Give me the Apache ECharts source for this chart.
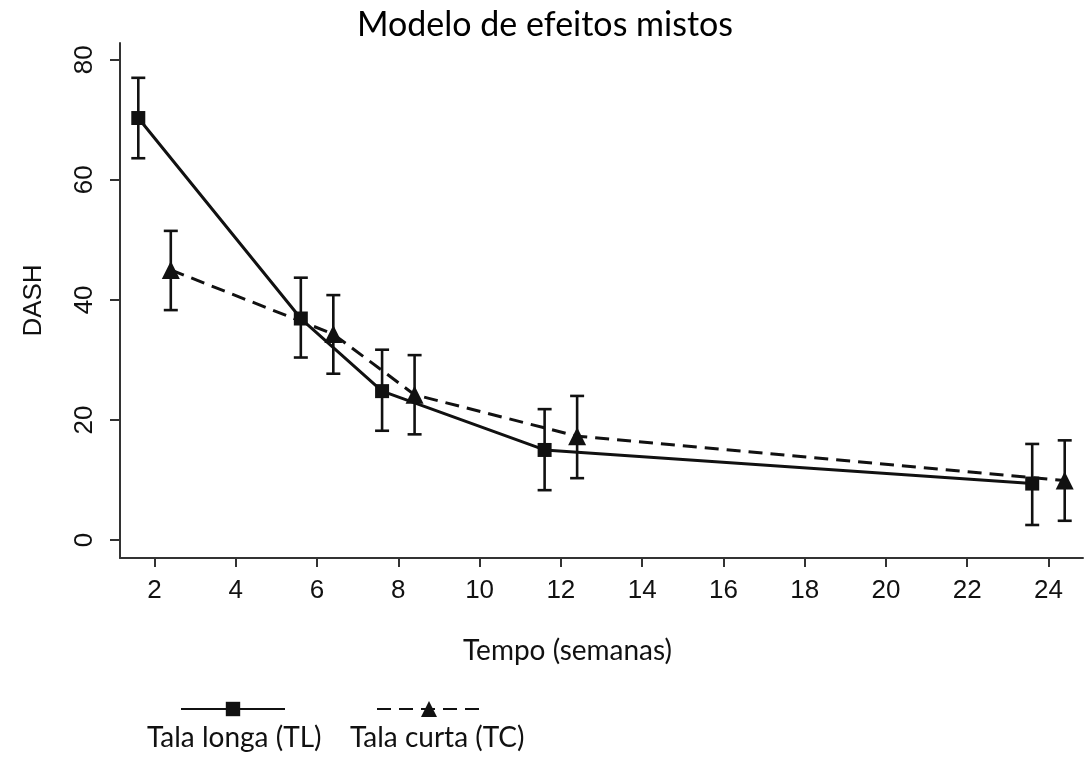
<!DOCTYPE html>
<html>
<head>
<meta charset="utf-8">
<script src="https://cdn.jsdelivr.net/npm/echarts@6/dist/echarts.min.js"></script>
<style>html,body{margin:0;padding:0;background:#fff}#c{width:1090px;height:761px}</style>
</head>
<body>
<div id="c"></div>
<script>
// Data
const tlWeeks = [1.6, 5.6, 7.6, 11.6, 23.6];
const tlMean  = [70.3, 36.9, 24.8, 15.0, 9.4];
const tlLow   = [63.6, 30.4, 18.2, 8.3, 2.5];
const tlHigh  = [77.0, 43.7, 31.7, 21.8, 16.0];
const tcWeeks = [2.4, 6.4, 8.4, 12.4, 24.4];
const tcMean  = [45.0, 34.3, 24.2, 17.3, 9.9];
const tcLow   = [38.3, 27.7, 17.6, 10.3, 3.2];
const tcHigh  = [51.5, 40.8, 30.8, 24.0, 16.6];
const xTicks = [2, 4, 6, 8, 10, 12, 14, 16, 18, 20, 22, 24];
const yTicks = [0, 20, 40, 60, 80];
const seriesNames = ['Tala longa (TL)', 'Tala curta (TC)'];

const chart = echarts.init(document.getElementById('c'));
const ink = '#111';

function errorSeries(weeks, low, high) {
  return {
    type: 'custom',
    silent: true,
    z: 1,
    data: weeks.map((w, i) => [w, low[i], high[i]]),
    renderItem: function (params, api) {
      const p1 = api.coord([api.value(0), api.value(1)]);
      const p2 = api.coord([api.value(0), api.value(2)]);
      const hw = 7;
      const st = { stroke: ink, lineWidth: 2.6 };
      return {
        type: 'group',
        children: [
          { type: 'line', shape: { x1: p1[0], y1: p1[1], x2: p2[0], y2: p2[1] }, style: st },
          { type: 'line', shape: { x1: p1[0] - hw, y1: p1[1], x2: p1[0] + hw, y2: p1[1] }, style: st },
          { type: 'line', shape: { x1: p2[0] - hw, y1: p2[1], x2: p2[0] + hw, y2: p2[1] }, style: st }
        ]
      };
    }
  };
}

const option = {
  backgroundColor: '#fff',
  animation: false,
  title: {
    text: 'Modelo de efeitos mistos',
    left: 'center',
    top: 3,
    textStyle: { fontFamily: 'Lato', fontWeight: 'normal', fontSize: 34, color: '#000' }
  },
  grid: { left: 120, right: 7, top: 43, bottom: 203 },
  legend: [
    {
      data: [seriesNames[0]], left: 180, top: 700, itemWidth: 104, itemHeight: 18,
      formatter: () => '', itemGap: 0, padding: 0, selectedMode: false
    },
    {
      data: [seriesNames[1]], left: 376, top: 699, itemWidth: 104, itemHeight: 20,
      formatter: () => '', itemGap: 0, padding: 0, selectedMode: false
    }
  ],
  graphic: [
    { type: 'text', left: 147, top: 724, style: { text: seriesNames[0], font: '28px Lato', fill: '#111' } },
    { type: 'text', left: 350, top: 724, style: { text: seriesNames[1], font: '28px Lato', fill: '#111' } }
  ],
  xAxis: {
    type: 'value',
    min: 1.15, max: 24.85,
    name: 'Tempo (semanas)',
    nameLocation: 'middle',
    nameGap: 79,
    nameTextStyle: { fontFamily: 'Lato', fontSize: 28, color: '#111', padding: [0, 68, 0, 0] },
    axisLine: { show: true, onZero: false, lineStyle: { color: '#333', width: 2 } },
    axisTick: { show: true, customValues: xTicks, length: 9, lineStyle: { color: '#333', width: 2 } },
    axisLabel: { customValues: xTicks, margin: 20, fontFamily: 'Liberation Sans', fontSize: 26, color: '#111' },
    splitLine: { show: false }
  },
  yAxis: {
    type: 'value',
    min: -3, max: 82.8,
    name: 'DASH',
    nameLocation: 'middle',
    nameGap: 73,
    nameRotate: 90,
    nameTextStyle: { fontFamily: 'Liberation Sans', fontSize: 26, color: '#111' },
    axisLine: { show: true, onZero: false, lineStyle: { color: '#333', width: 2 } },
    axisTick: { show: true, customValues: yTicks, length: 10, lineStyle: { color: '#333', width: 2 } },
    axisLabel: { customValues: yTicks, rotate: 90, margin: 22, fontFamily: 'Liberation Sans', fontSize: 26, color: '#111' },
    splitLine: { show: false }
  },
  series: [
    errorSeries(tlWeeks, tlLow, tlHigh),
    errorSeries(tcWeeks, tcLow, tcHigh),
    {
      name: seriesNames[0],
      type: 'line',
      z: 3,
      data: tlWeeks.map((w, i) => [w, tlMean[i]]),
      symbol: 'rect',
      symbolSize: 14,
      itemStyle: { color: ink },
      lineStyle: { color: ink, width: 3, type: 'solid' }
    },
    {
      name: seriesNames[1],
      type: 'line',
      z: 3,
      data: tcWeeks.map((w, i) => [w, tcMean[i]]),
      symbol: 'triangle',
      symbolSize: 18,
      itemStyle: { color: ink },
      lineStyle: { color: ink, width: 3, type: [14, 8] }
    }
  ]
};
chart.setOption(option);
</script>
</body>
</html>
